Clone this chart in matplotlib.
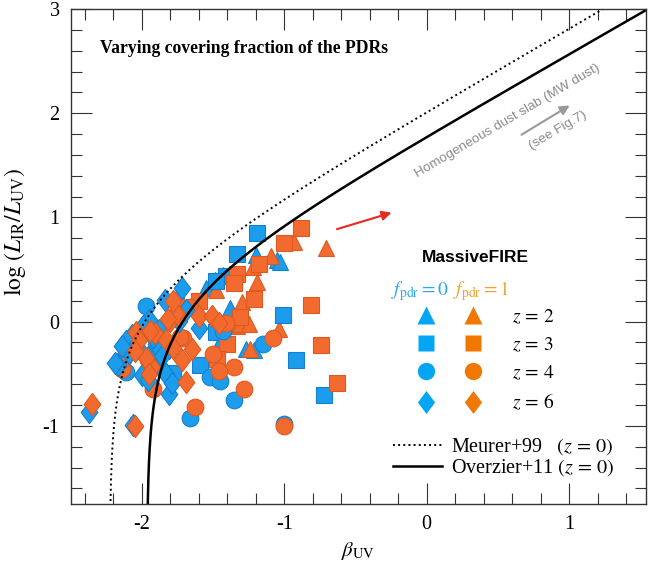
import numpy as np
import matplotlib
matplotlib.use("Agg")
import matplotlib.pyplot as plt
from matplotlib.lines import Line2D
from matplotlib.legend_handler import HandlerTuple
from matplotlib.ticker import MultipleLocator

plt.rcParams['font.family'] = ['Liberation Serif', 'DejaVu Serif']
plt.rcParams['mathtext.fontset'] = 'stix'
plt.rcParams['axes.unicode_minus'] = False

# MassiveFIRE galaxies: beta_UV and log(L_IR/L_UV), f_pdr = 0 (blue) and f_pdr = 1 (orange)
b_z2_f0 = [-1.05, -1.20, -1.03, -1.55, -1.49, -1.43, -1.38, -1.27, -1.21, -1.46]
i_z2_f0 = [0.59, 0.64, 0.57, 0.32, 0.40, 0.45, 0.13, -0.26, -0.27, -0.21]
b_z2_f1 = [-0.93, -0.71, -1.09, -1.22, -1.48, -1.19, -1.30, -1.26, -1.33, -1.04, -1.24, -1.31, -1.25]
i_z2_f1 = [0.76, 0.71, 0.63, 0.52, 0.30, 0.38, 0.19, 0.01, -0.04, -0.07, -0.26, -0.02, -0.02]

b_z3_f0 = [-1.19, -1.33, -1.41, -1.48, -1.01, -0.92, -0.72, -1.59, -1.78, -1.48]
i_z3_f0 = [0.85, 0.65, 0.44, 0.39, 0.06, -0.37, -0.70, -0.42, -0.49, -0.10]
b_z3_f1 = [-0.88, -1.00, -1.18, -1.33, -1.35, -1.60, -1.21, -1.31, -0.81, -0.74, -0.63, -1.40, -1.47]
i_z3_f1 = [0.90, 0.75, 0.55, 0.46, 0.37, 0.20, 0.22, 0.04, 0.16, -0.22, -0.59, -0.21, -0.36]

b_z4_f0 = [-1.97, -1.15, -1.52, -1.45, -1.35, -1.66, -1.00, -1.43, -2.11]
i_z4_f0 = [0.15, -0.21, -0.53, -0.57, -0.75, -0.92, -0.98, -0.09, -0.48]
b_z4_f1 = [-1.08, -1.50, -1.35, -1.46, -1.28, -1.63, -1.00, -2.14, -1.92, -1.71, -1.76, -1.66,
           -1.41, -1.73, -2.13]
i_z4_f1 = [-0.16, -0.31, -0.44, -0.47, -0.65, -0.82, -1.00, -0.45, -0.65, -0.16, 0.21, 0.14,
           -0.01, -0.15, -0.36]

b_z6_f0 = [-1.72, -1.84, -1.95, -2.07, -2.11, -2.09, -2.17, -2.00, -1.96, -1.88, -1.83, -1.81,
           -1.79, -1.96, -1.90, -1.81, -1.88, -1.74, -1.69, -1.60, -2.06, -2.37, -2.03, -1.86,
           -2.19, -1.99, -2.14, -1.92]
i_z6_f0 = [0.32, 0.21, 0.02, -0.13, -0.19, -0.30, -0.42, -0.51, -0.56, -0.42, -0.50, -0.69,
           -0.59, -0.34, -0.21, -0.25, -0.08, 0.01, 0.11, -0.06, -0.99, -0.87, -0.25, -0.33,
           -0.40, -0.04, -0.23, -0.15]
b_z6_f1 = [-2.04, -1.91, -1.80, -1.74, -1.60, -1.51, -1.46, -1.65, -1.96, -1.93, -1.72, -1.69,
           -2.05, -2.35, -1.83, -1.76, -2.02, -1.78, -1.97, -1.94, -1.82, -1.78, -2.05, -1.95]
i_z6_f1 = [-0.10, -0.11, 0.01, 0.05, 0.05, 0.05, -0.01, -0.26, -0.39, -0.44, -0.37, -0.58,
           -1.00, -0.79, -0.18, 0.08, -0.18, -0.25, -0.35, -0.09, 0.03, 0.20, -0.28, -0.50]

redshifts = [2, 3, 4, 6]
groups = [
    (b_z2_f0, i_z2_f0, b_z2_f1, i_z2_f1),
    (b_z3_f0, i_z3_f0, b_z3_f1, i_z3_f1),
    (b_z4_f0, i_z4_f0, b_z4_f1, i_z4_f1),
    (b_z6_f0, i_z6_f0, b_z6_f1, i_z6_f1),
]

# local IRX-beta relations: A1600 = a + b*beta, IRX = 1.75 (10^(0.4 A) - 1)
meurer_a, meurer_b = 4.43, 1.99
overzier_a, overzier_b = 3.85, 1.96

diamond = [(0, 1), (0.75, 0), (0, -1), (-0.75, 0), (0, 1)]
markers = ['^', 's', 'o', diamond]
sizes = [12, 11.5, 12, 16]

blue, blue_edge = '#1C9CEC', '#1580CC'
orange, orange_edge = '#F26A2E', '#DC5A22'


def irx(beta, a, b):
    return np.log10(1.75 * (10 ** (0.4 * (a + b * beta)) - 1))


fig = plt.figure(figsize=(6.62, 5.67), dpi=100)
ax = fig.add_axes([0.1068, 0.1111, 0.869, 0.873])

for (bx0, by0, bx1, by1), m, ms in zip(groups, markers, sizes):
    ax.plot(bx0, by0, ls='none', marker=m, ms=ms, mfc=blue, mec=blue_edge, mew=0.8)
    ax.plot(bx1, by1, ls='none', marker=m, ms=ms, mfc=orange, mec=orange_edge, mew=0.8)

for a, b, ls, lw in [(meurer_a, meurer_b, ':', 1.4), (overzier_a, overzier_b, '-', 1.8)]:
    b0 = -a / b
    beta = b0 + np.concatenate([np.logspace(-6, -1, 200), np.linspace(0.1, 4.0, 400)])
    ax.plot(beta, irx(beta, a, b), color='black', ls=ls, lw=lw)

ax.annotate('', xy=(-0.228, 1.053), xytext=(-0.649, 0.88),
            arrowprops=dict(arrowstyle='-|>', color='#E8281E', lw=1.5, mutation_scale=14))
ax.annotate('', xy=(1.021, 2.088), xytext=(0.649, 1.78),
            arrowprops=dict(arrowstyle='-|>', color='#999999', lw=1.5, mutation_scale=14))
ax.text(0.57, 1.926, 'Homogeneous dust slab (MW dust)', rotation=30.5, color='#8A8A8A',
        fontsize=9.7, family='Liberation Sans', ha='center', va='center')
ax.text(0.923, 1.84, '(see Fig.7)', rotation=30.5, color='#8A8A8A',
        fontsize=9.7, family='Liberation Sans', ha='center', va='center')

ax.text(0.051, 0.921, 'Varying covering fraction of the PDRs', transform=ax.transAxes,
        fontsize=12.7, fontweight='bold', ha='left', va='center')
ax.text(0.703, 0.497, 'MassiveFIRE', transform=ax.transAxes, fontsize=12.5,
        fontweight='bold', family='Liberation Sans', ha='center', va='center')
ax.text(0.607, 0.43, r'$f_{\rm pdr} = 0$', transform=ax.transAxes, fontsize=14,
        color='#2AA8F2', ha='center', va='center')
ax.text(0.714, 0.43, r'$f_{\rm pdr} = 1$', transform=ax.transAxes, fontsize=14,
        color='#F5A030', ha='center', va='center')

# marker legend: blue and orange symbol for each redshift
handles = []
for m, ms in zip(markers, sizes):
    h0 = Line2D([], [], ls='none', marker=m, ms=ms + 0.5, mfc='#05A5F5', mec='none')
    h1 = Line2D([], [], ls='none', marker=m, ms=ms + 0.5, mfc='#F07800', mec='none')
    handles.append((h0, h1))
labels = [rf'$z\,=\,{z}$' for z in redshifts]
leg1 = ax.legend(handles, labels, handler_map={tuple: HandlerTuple(ndivide=None, pad=0.82)},
                 handlelength=4.0, handletextpad=1.2, labelspacing=0.5, fontsize=14,
                 frameon=False, loc='upper left', bbox_to_anchor=(0.591, 0.397),
                 borderpad=0, borderaxespad=0)
ax.add_artist(leg1)

line_handles = [Line2D([], [], color='black', ls=':', lw=1.4),
                Line2D([], [], color='black', ls='-', lw=1.8)]
line_labels = [r'Meurer+99   $(z\,=\,0)$', r'Overzier+11 $(z\,=\,0)$']
ax.legend(line_handles, line_labels, fontsize=14.5, frameon=False, handlelength=2.4,
          handletextpad=0.45, labelspacing=0.0, loc='lower right',
          bbox_to_anchor=(0.945, 0.052), borderpad=0, borderaxespad=0)

ax.set_xlim(-2.5, 1.54)
ax.set_ylim(-1.75, 3.0)
ax.set_xticks([-2, -1, 0, 1])
ax.set_yticks([-1, 0, 1, 2, 3])
ax.xaxis.set_minor_locator(MultipleLocator(0.2))
ax.yaxis.set_minor_locator(MultipleLocator(0.2))
ax.tick_params(which='both', direction='in', top=True, right=True, width=0.8,
               color='#333333', labelsize=14.5)
ax.tick_params(which='major', length=15, pad=8)
ax.tick_params(which='minor', length=7.7)
for s in ax.spines.values():
    s.set_linewidth(1.0)
    s.set_color('#333333')

ax.set_xlabel(r'$\beta_{\rm UV}$', fontsize=15, labelpad=4)
ax.set_ylabel(r'$\log\,(L_{\rm IR}/L_{\rm UV})$', fontsize=17)
ax.yaxis.set_label_coords(-0.074, 0.55)

fig.savefig('out.png', dpi=100)
